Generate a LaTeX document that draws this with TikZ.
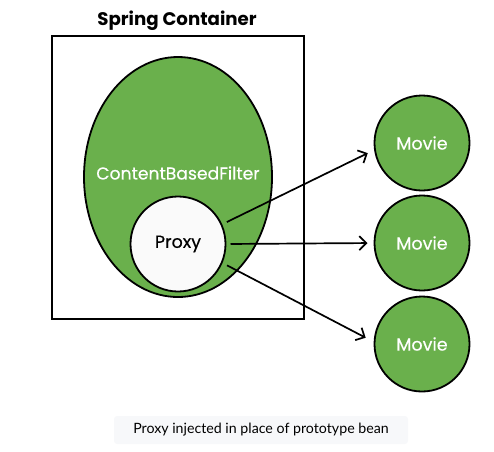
\documentclass[tikz,border=0pt]{standalone}
\usepackage{fontspec}
\setmainfont{Poppins}
\newfontfamily\medfont{Poppins}[FakeBold=0.4]
\newfontfamily\capfont{Lato}
\usetikzlibrary{arrows.meta,shapes.geometric}
\definecolor{leaf}{HTML}{6AB04C}
\definecolor{capbg}{HTML}{F7F8FA}
\begin{document}
\begin{tikzpicture}[x=1pt,y=-1pt,
  bean/.style={circle,draw=black,line width=1.8pt,fill=leaf,minimum size=95pt,inner sep=0pt,outer sep=0pt,text=white,font=\medfont\fontsize{17.5}{20}\selectfont},
  link/.style={-{Straight Barb[length=7pt,width=14pt]},line width=1.7pt}]
\useasboundingbox (0,0) rectangle (494,451);
\node[font=\bfseries\fontsize{18.2}{22}\selectfont] (title) at (177,21) {Spring Container};
\draw[line width=2pt] (52,36) rectangle (304,319);
\node[ellipse,draw=black,line width=1.8pt,fill=leaf,minimum width=188pt,minimum height=240pt,inner sep=0pt,outer sep=0pt] (cbf) at (178,177) {};
\node[text=white,font=\medfont\fontsize{17.2}{20}\selectfont] (cbflabel) at (178,173) {ContentBasedFilter};
\node[bean,fill=white!98!black,text=black] (proxy) at (178,244) {Proxy};
\node[bean] (m1) at (422,143) {Movie};
\node[bean] (m2) at (422,243) {Movie};
\node[bean] (m3) at (422,344) {Movie};
\draw[link,shorten <=6pt,shorten >=8pt] (proxy.24) -- (m1.188);
\draw[link,shorten <=5pt,shorten >=7pt] (proxy.0) -- (m2.180);
\draw[link,shorten <=6pt,shorten >=10pt] (proxy.-23) -- (m3.178);
\node[fill=capbg,rounded corners=3pt,minimum width=294pt,minimum height=28pt,inner sep=0pt,font=\capfont\fontsize{14.2}{16}\selectfont] (cap) at (261,430) {Proxy injected in place of prototype bean};
\end{tikzpicture}
\end{document}
